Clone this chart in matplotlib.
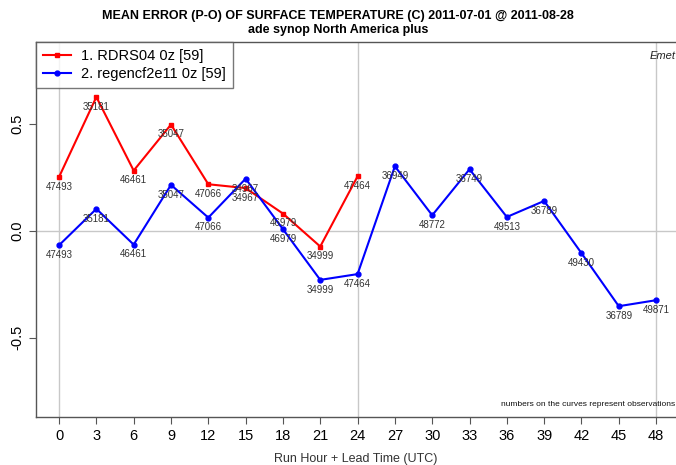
import numpy as np
import matplotlib
matplotlib.use("Agg")
import matplotlib.pyplot as plt

plt.rcParams['font.family'] = ['Liberation Sans', 'DejaVu Sans']

# lead times (hours)
hours_red = [0, 3, 6, 9, 12, 15, 18, 21, 24]
hours_blue = [0, 3, 6, 9, 12, 15, 18, 21, 24, 27, 30, 33, 36, 39, 42, 45, 48]

# mean error values
err_red = [0.252, 0.626, 0.282, 0.497, 0.218, 0.200, 0.081, -0.073, 0.255]
err_blue = [-0.067, 0.103, -0.064, 0.215, 0.062, 0.244, 0.008, -0.229, -0.202,
            0.302, 0.073, 0.288, 0.065, 0.140, -0.104, -0.352, -0.324]

# observation counts shown below each point
obs_red = [47493, 35181, 46461, 35047, 47066, 34967, 46979, 34999, 47464]
obs_blue = [47493, 35181, 46461, 35047, 47066, 34967, 46979, 34999, 47464,
            36949, 48772, 36749, 49513, 36789, 49430, 36789, 49871]

names = ['1. RDRS04 0z [59]', '2. regencf2e11 0z [59]']
xticks = list(range(0, 49, 3))
yticks = [-0.5, 0.0, 0.5]

fig = plt.figure(figsize=(6.76, 4.65), dpi=100)
ax = fig.add_axes([0.0533, 0.1032, 0.9467, 0.8065])

# reference lines
for x in [0, 24, 48]:
    ax.axvline(x, color='#c8c8c8', lw=1, zorder=0)
ax.axhline(0, color='#c8c8c8', lw=1, zorder=0)

ax.plot(hours_red, err_red, color='#ff0000', lw=1.5, marker='s', ms=3.5,
        label=names[0], zorder=2)
ax.plot(hours_blue, err_blue, color='#0000ff', lw=1.5, marker='o', ms=3.5,
        label=names[1], zorder=3)

# obs counts under each point
for x, y, n in zip(hours_red, err_red, obs_red):
    ax.annotate(str(n), (x, y), xytext=(0, -3.5), textcoords='offset points',
                ha='center', va='top', fontsize=7, color='#333333', zorder=4)
for x, y, n in zip(hours_blue, err_blue, obs_blue):
    ax.annotate(str(n), (x, y), xytext=(0, -3.5), textcoords='offset points',
                ha='center', va='top', fontsize=7, color='#333333', zorder=4)

ax.set_xlim(-1.85, 49.6)
ax.set_ylim(-0.87, 0.883)
ax.set_xticks(xticks)
ax.set_xticklabels([str(t) for t in xticks], fontsize=10.5)
ax.set_yticks(yticks)
ax.set_yticklabels(['-0.5', '0.0', '0.5'], fontsize=10.5, rotation=90, va='center')
ax.tick_params(direction='out', length=5, color='#555555', width=0.8)

for s in ax.spines.values():
    s.set_color('#555555')
    s.set_linewidth(1)
ax.spines['right'].set_visible(False)

ax.set_xlabel('Run Hour + Lead Time (UTC)', fontsize=9, color='#333333', labelpad=7)

leg = ax.legend(loc='upper left', borderaxespad=0, fancybox=False,
                edgecolor='#555555', fontsize=10.5, handlelength=1.9,
                borderpad=0.5, labelspacing=0.25, handletextpad=0.65)
leg.get_frame().set_linewidth(1)

ax.text(0.999, 0.975, 'Emet', transform=ax.transAxes, ha='right', va='top',
        fontsize=8, style='italic', color='#222222')
ax.text(0.999, 0.025, 'numbers on the curves represent observations',
        transform=ax.transAxes, ha='right', va='bottom', fontsize=6, color='#111111')

fig.text(0.5, 0.965, 'MEAN ERROR (P-O) OF SURFACE TEMPERATURE (C) 2011-07-01 @ 2011-08-28',
         ha='center', va='center', fontsize=9, fontweight='bold')
fig.text(0.5, 0.935, 'ade synop North America plus', ha='center', va='center',
         fontsize=9, fontweight='bold')

fig.savefig('out.png', dpi=100)
